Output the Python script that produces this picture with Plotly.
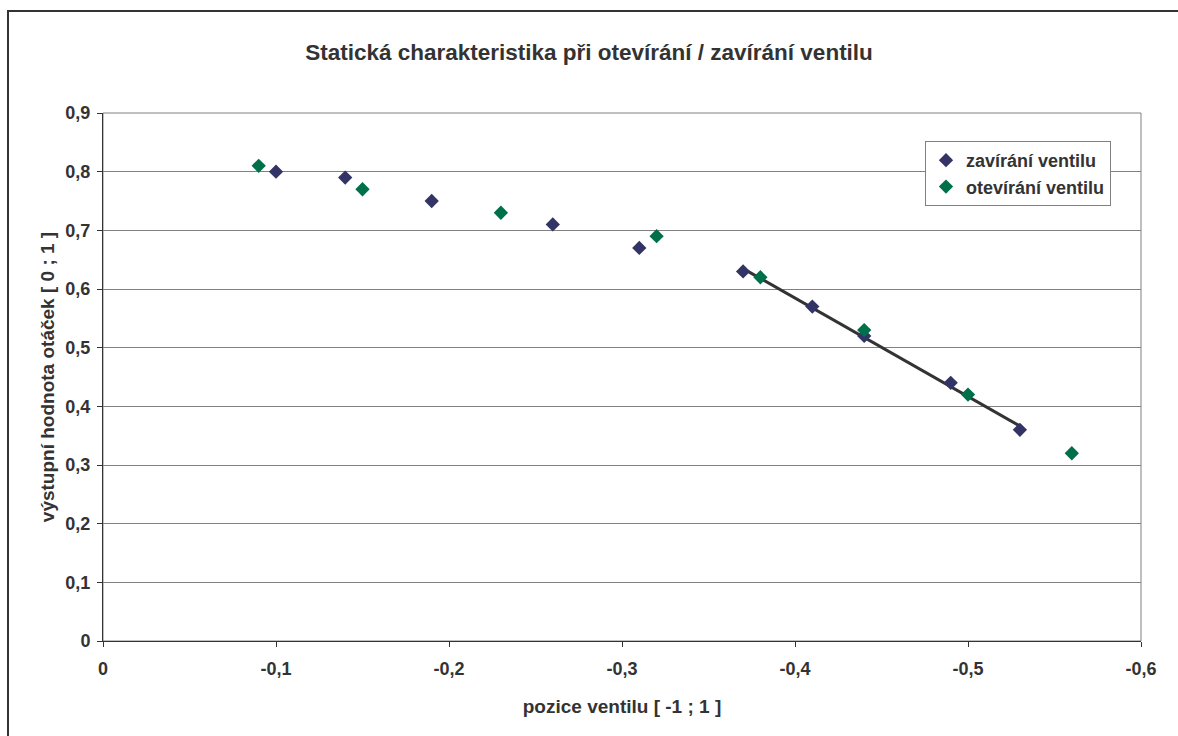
import numpy as np
import plotly.graph_objects as go

# Data
closing_x = [-0.10, -0.14, -0.19, -0.26, -0.31, -0.37, -0.41, -0.44, -0.49, -0.53]
closing_y = [0.80, 0.79, 0.75, 0.71, 0.67, 0.63, 0.57, 0.52, 0.44, 0.36]
opening_x = [-0.09, -0.15, -0.23, -0.32, -0.38, -0.44, -0.50, -0.56]
opening_y = [0.81, 0.77, 0.73, 0.69, 0.62, 0.53, 0.42, 0.32]

x_tick_vals = [0, -0.1, -0.2, -0.3, -0.4, -0.5, -0.6]
x_tick_text = ["0", "-0,1", "-0,2", "-0,3", "-0,4", "-0,5", "-0,6"]
y_tick_vals = [0, 0.1, 0.2, 0.3, 0.4, 0.5, 0.6, 0.7, 0.8, 0.9]
y_tick_text = ["0", "0,1", "0,2", "0,3", "0,4", "0,5", "0,6", "0,7", "0,8", "0,9"]

title_text = "Statická charakteristika při otevírání / zavírání ventilu"
x_title = "pozice ventilu [ -1 ; 1 ]"
y_title = "výstupní hodnota otáček [ 0 ; 1 ]"
name_closing = "zavírání ventilu"
name_opening = "otevírání ventilu"

# linear trend through the closing points in the steep section
trend_cut = -0.37
cx = np.array(closing_x)
cy = np.array(closing_y)
mask = cx <= trend_cut
slope, intercept = np.polyfit(cx[mask], cy[mask], 1)
tx = np.array([cx[mask].max(), cx[mask].min()])
ty = slope * tx + intercept

FONT = "Liberation Sans, Arial, sans-serif"
TXT = "#333333"


def b(s):
    return "<b>" + s + "</b>"


fig = go.Figure()
fig.add_trace(go.Scatter(x=tx, y=ty, mode="lines", line=dict(color="#333333", width=3),
                         showlegend=False, hoverinfo="skip"))
fig.add_trace(go.Scatter(x=closing_x, y=closing_y, mode="markers", name=b(name_closing),
                         marker=dict(symbol="diamond", size=11, color="#333366")))
fig.add_trace(go.Scatter(x=opening_x, y=opening_y, mode="markers", name=b(name_opening),
                         marker=dict(symbol="diamond", size=11, color="#00704A")))

X0, X1, Y0, Y1 = 103, 1141, 113, 641
PW, PH = X1 - X0, Y1 - Y0


def px(x):
    return (x - X0) / PW


def py(y):
    return (Y1 - y) / PH


fig.update_layout(
    width=1178, height=736,
    margin=dict(l=X0, r=1178 - X1, t=Y0, b=736 - Y1),
    paper_bgcolor="white", plot_bgcolor="white",
    font=dict(family=FONT, size=18, color=TXT),
    title=dict(text=b(title_text), x=0.5, xref="container", y=1 - 52 / 736, yanchor="middle",
               xanchor="center", font=dict(family=FONT, size=22.5, color=TXT)),
    showlegend=True,
    legend=dict(x=px(925), y=py(141), xanchor="left", yanchor="top",
                bgcolor="white", bordercolor="#808080", borderwidth=1,
                font=dict(family=FONT, size=18, color=TXT),
                itemwidth=30, tracegroupgap=0),
    xaxis=dict(range=[0, -0.6], tickvals=x_tick_vals, ticktext=[b(t) for t in x_tick_text],
               showgrid=False, zeroline=False, showline=True, linecolor="#333333", linewidth=1,
               ticks="outside", ticklen=5, tickcolor="#333333", ticklabelstandoff=6,
               title=dict(text=b(x_title), standoff=22, font=dict(family=FONT, size=19, color=TXT)),
               tickfont=dict(family=FONT, size=18, color=TXT)),
    yaxis=dict(range=[0, 0.9], tickvals=y_tick_vals, ticktext=[b(t) for t in y_tick_text],
               showgrid=True, gridcolor="#808080", gridwidth=1, zeroline=False,
               showline=True, linecolor="#333333", linewidth=1,
               ticks="outside", ticklen=5, tickcolor="#333333", ticklabelstandoff=3,
               title=dict(text=b(y_title), standoff=5, font=dict(family=FONT, size=19, color=TXT)),
               tickfont=dict(family=FONT, size=18, color=TXT)),
    shapes=[
        dict(type="rect", xref="paper", yref="paper", x0=0, x1=1, y0=0, y1=1,
             line=dict(color="#808080", width=1), layer="below"),
        dict(type="line", xref="paper", yref="paper",
             x0=px(8), x1=px(8), y0=py(760), y1=py(10),
             line=dict(color="#333333", width=2), layer="below"),
        dict(type="line", xref="paper", yref="paper",
             x0=px(7), x1=px(1200), y0=py(11), y1=py(11),
             line=dict(color="#333333", width=2), layer="below"),
    ],
)

fig.write_html("out.html")
